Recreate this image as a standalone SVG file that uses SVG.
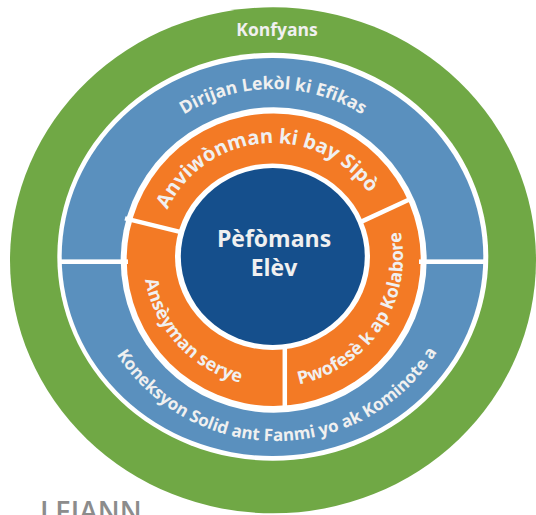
<svg xmlns="http://www.w3.org/2000/svg" width="536" height="515" viewBox="0 0 536 515">
<style>
.t{font-family:"Open Sans","Liberation Sans",sans-serif;font-weight:700;fill:#f0f0f0}
.gap{fill:#ffffff}
.div{stroke:#ffffff;stroke-width:4.5;fill:none}
</style>
<defs>
<path id="arcTopBlue" d="M105,257 A168,168 0 0 1 441,257"/>
<path id="arcTopOrange" d="M156,260 A117,117 0 0 1 390,260"/>
<path id="arcBotOrange" d="M160.4,192 A130,130 0 1 0 385.6,192"/>
<path id="arcBotBlue" d="M111.5,156 A190,190 0 1 0 440.5,156"/>
</defs>
<rect width="536" height="515" fill="#ffffff"/>
<g id="ring-konfyans">
<ellipse cx="273" cy="260.3" rx="263" ry="253" fill="#70a845"/>
<text class="t" x="277" y="36" font-size="17.5" text-anchor="middle">Konfyans</text>
</g>
<ellipse class="gap" cx="272.8" cy="256.7" rx="215.5" ry="204"/>
<g id="ring-blue">
<ellipse cx="272.5" cy="257" rx="210.8" ry="199" fill="#5a90be"/>
</g>
<ellipse class="gap" cx="273.7" cy="260" rx="153" ry="152.7"/>
<g id="ring-orange">
<ellipse cx="273.7" cy="259.7" rx="147" ry="146.3" fill="#f37a25"/>
</g>
<ellipse class="gap" cx="272.5" cy="256.7" rx="97.5" ry="93.3"/>
<g id="connectors">
<rect x="58" y="259.4" width="70" height="4.6" fill="#ffffff"/>
<rect x="419" y="259.4" width="69" height="4.6" fill="#ffffff"/>
<line class="div" x1="125" y1="218.4" x2="182" y2="232.4"/>
<line class="div" x1="412" y1="198.3" x2="362" y2="221.4"/>
<line class="div" x1="284.8" y1="342" x2="284.8" y2="410"/>
</g>
<g id="node-dirijan">
<text class="t" font-size="17.5"><textPath href="#arcTopBlue" startOffset="50%" text-anchor="middle">Dirijan Lekòl ki Efikas</textPath></text>
</g>
<g id="node-koneksyon">
<text class="t" font-size="17"><textPath href="#arcBotBlue" startOffset="50.2%" text-anchor="middle">Koneksyon Solid ant Fanmi yo ak Kominote a</textPath></text>
</g>
<g id="node-anviwonman">
<text class="t" font-size="20"><textPath href="#arcTopOrange" startOffset="47.4%" text-anchor="middle">Anviwònman ki bay Sipò</textPath></text>
</g>
<g id="node-anseyman">
<text class="t" font-size="18"><textPath href="#arcBotOrange" startOffset="30.3%" text-anchor="middle">Ansèyman serye</textPath></text>
</g>
<g id="node-pwofese">
<text class="t" font-size="18"><textPath href="#arcBotOrange" startOffset="73.5%" text-anchor="middle">Pwofesè k ap Kolabore</textPath></text>
</g>
<g id="node-center">
<ellipse cx="272.8" cy="256.5" rx="92" ry="88.5" fill="#154f8c"/>
<text class="t" x="274" y="246.7" font-size="23" text-anchor="middle">Pèfòmans</text>
<text class="t" x="274" y="275.7" font-size="23" text-anchor="middle">Elèv</text>
</g>
<text x="40" y="522" font-family="'Open Sans','Liberation Sans',sans-serif" font-weight="600" font-size="28" fill="#8c8c8c">LEJANN</text>
</svg>
